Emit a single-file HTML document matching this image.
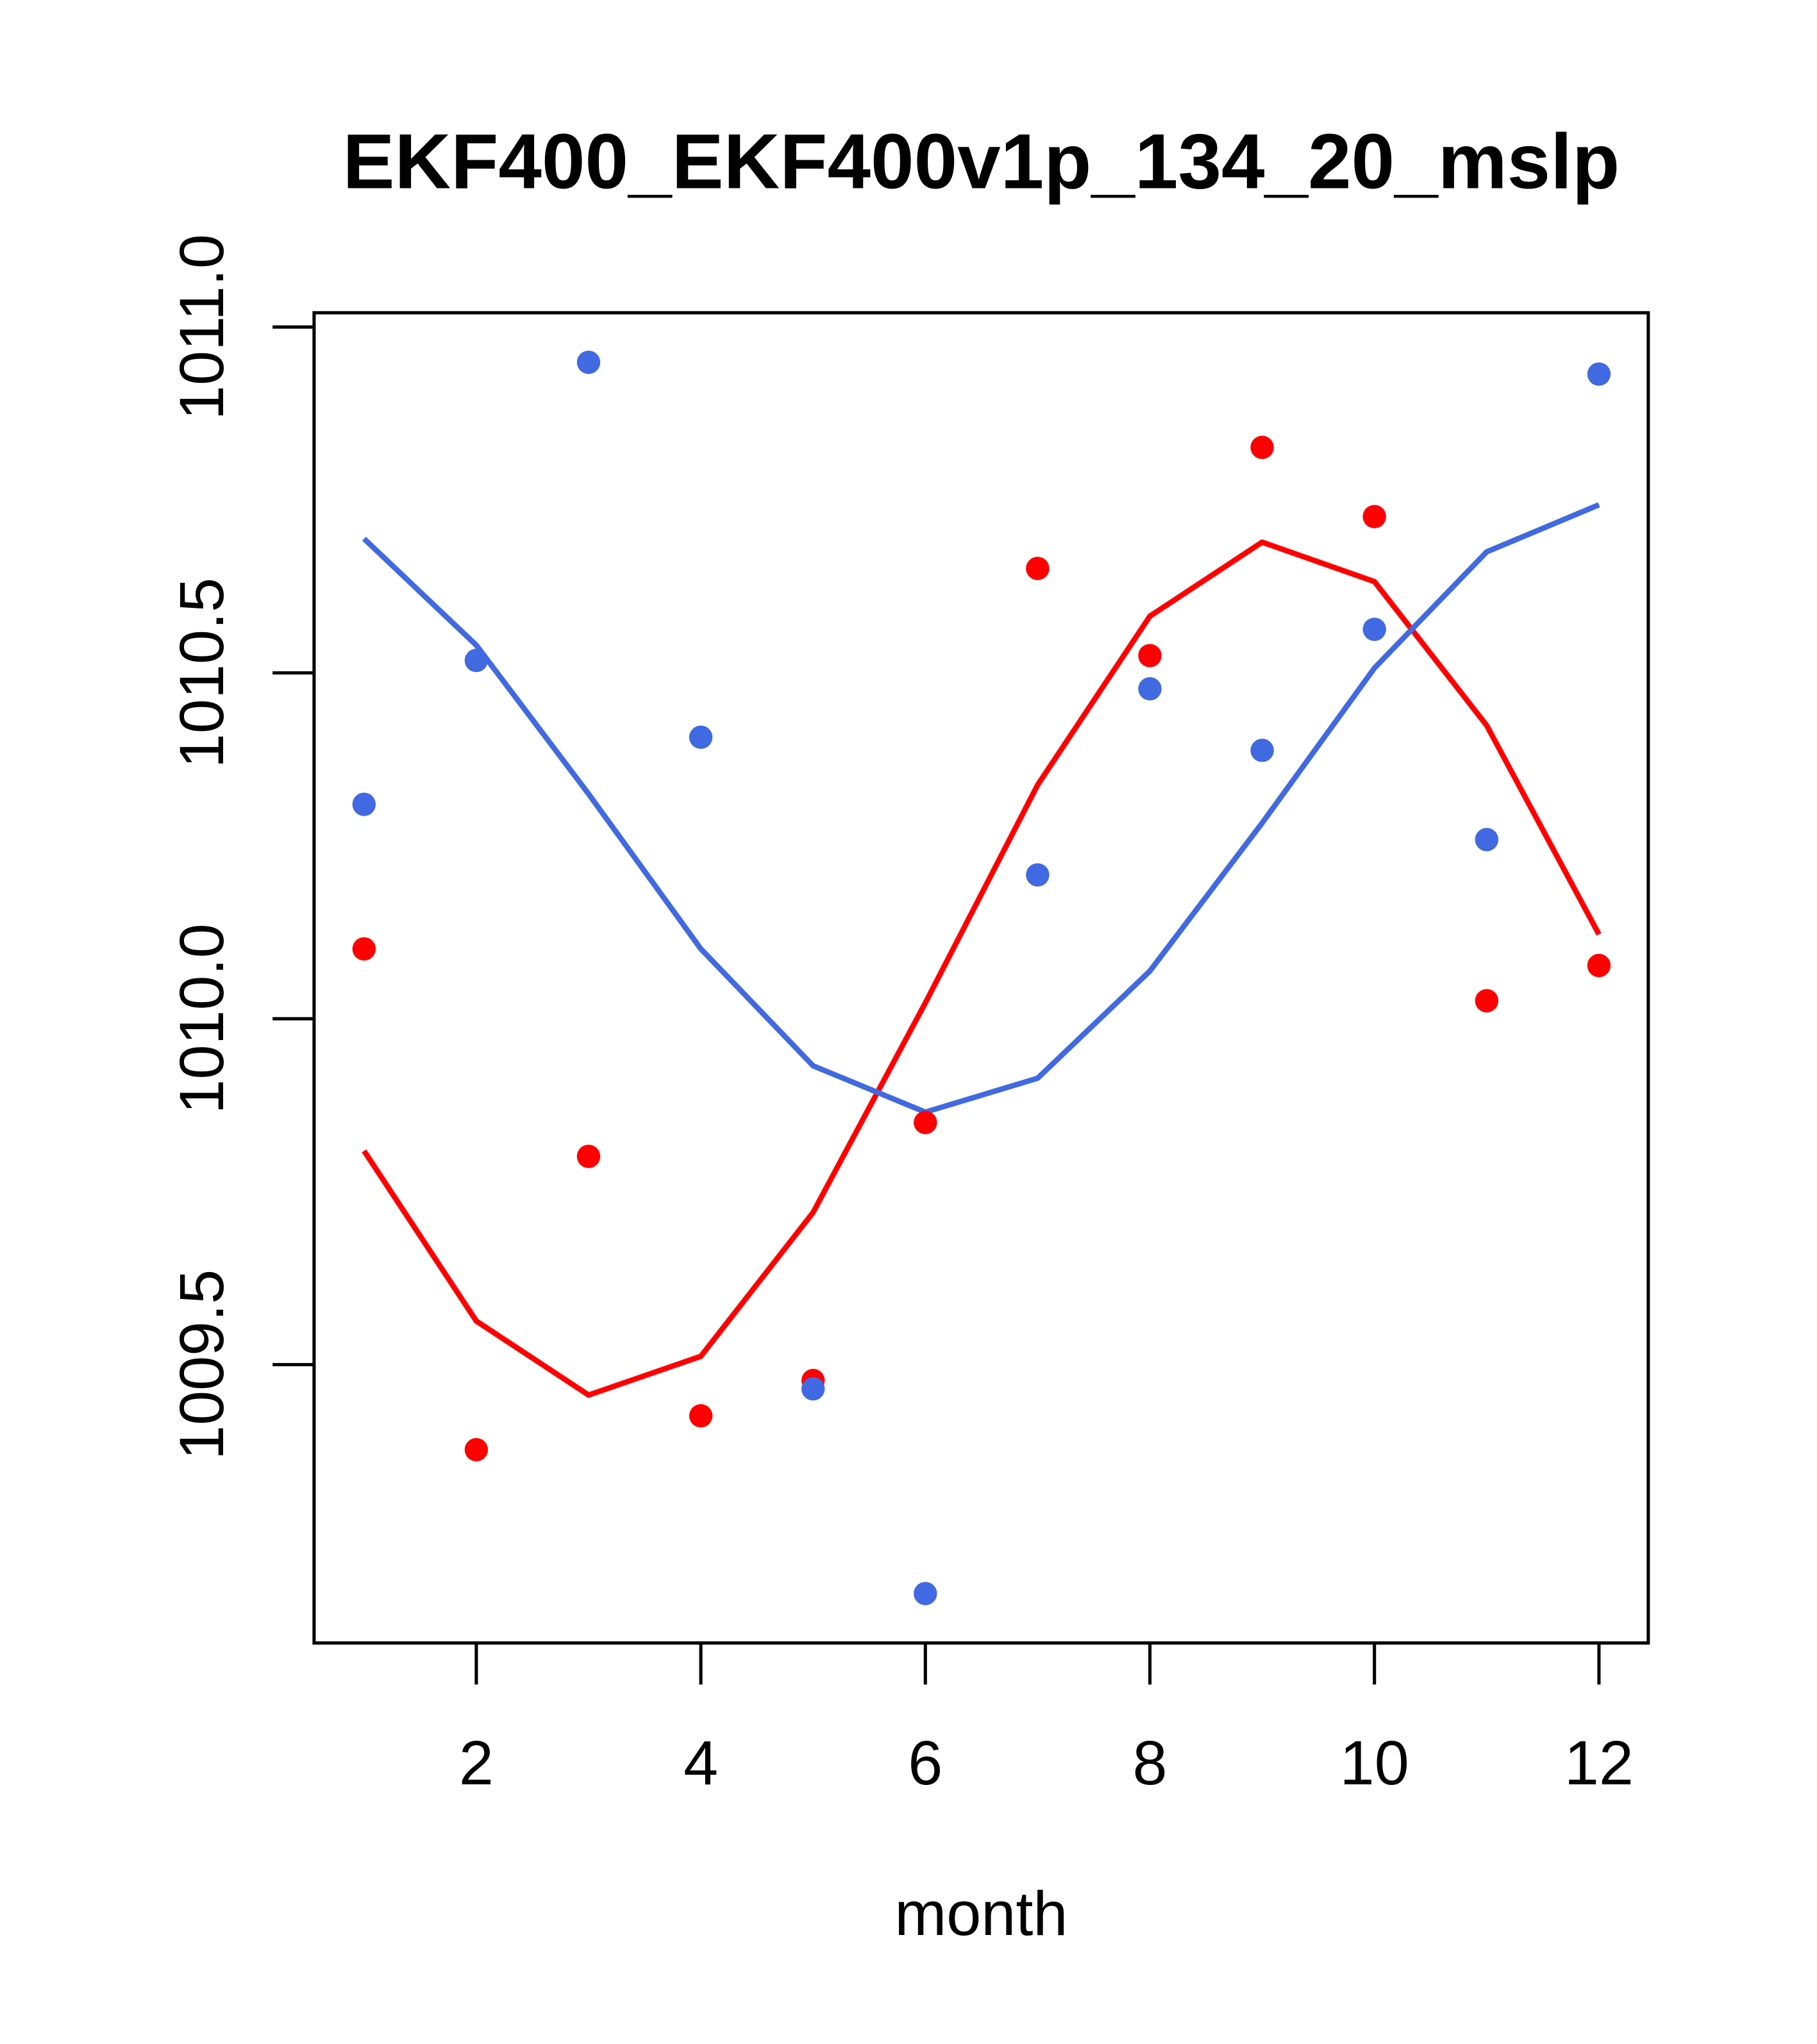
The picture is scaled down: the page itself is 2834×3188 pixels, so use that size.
<!DOCTYPE html>
<html><head><meta charset="utf-8"><style>
html,body{margin:0;padding:0;background:#fff;}
svg{display:block;}
text{font-family:"Liberation Sans",Arial,sans-serif;fill:#000;}
</style></head><body>
<svg id="chart" width="2834" height="3188" viewBox="0 0 1400 1575" preserveAspectRatio="none" xmlns="http://www.w3.org/2000/svg">
<text x="756" y="145" font-size="60" font-weight="bold" text-anchor="middle">EKF400_EKF400v1p_134_20_mslp</text>
<rect x="242" y="241" width="1028" height="1025" fill="none" stroke="#000" stroke-width="2.5"/>
<g id="xaxis"></g>
<g id="yaxis"></g>
<text x="756" y="1491" font-size="48" text-anchor="middle">month</text>
<g id="marks"></g>
</svg>
<script>
const months = [1,2,3,4,5,6,7,8,9,10,11,12];
const xTicks = [2,4,6,8,10,12];
const yTicks = [1009.5,1010.0,1010.5,1011.0];
const yTickLabels = ["1009.5","1010.0","1010.5","1011.0"];
const bluePoints = [1010.310,1010.518,1010.949,1010.407,1009.465,1009.169,1010.208,1010.477,1010.388,1010.563,1010.259,1010.932];
const redPoints = [1010.101,1009.377,1009.801,1009.426,1009.477,1009.850,1010.651,1010.525,1010.826,1010.726,1010.026,1010.077];
const blueLine = [1010.694,1010.540,1010.325,1010.101,1009.932,1009.865,1009.914,1010.069,1010.283,1010.507,1010.675,1010.743];
const redLine = [1009.809,1009.563,1009.456,1009.512,1009.720,1010.023,1010.338,1010.582,1010.689,1010.632,1010.424,1010.122];

const NS = "http://www.w3.org/2000/svg";
function xs(m){ return 280.5 + (m-1)*86.5; }
function ys(v){ return 252 + (1011 - v)*533; }
function mk(tag, attrs, parent){
  const e = document.createElementNS(NS, tag);
  for (const k in attrs) e.setAttribute(k, attrs[k]);
  parent.appendChild(e);
  return e;
}
const xa = document.getElementById('xaxis');
const ya = document.getElementById('yaxis');
const mg = document.getElementById('marks');

xTicks.forEach(t => {
  const l = mk('line', {x1:xs(t), x2:xs(t), y1:1266, y2:1298, stroke:'#000', 'stroke-width':2.5}, xa);
  
  
  const tx = mk('text', {x:xs(t), y:1375, 'font-size':48, 'text-anchor':'middle'}, xa);
  tx.textContent = t;
  
  
});
yTicks.forEach((t, i) => {
  const l = mk('line', {x1:210, x2:242, y1:ys(t), y2:ys(t), stroke:'#000', 'stroke-width':2.5}, ya);
  
  
  const y = ys(t);
  const tx = mk('text', {x:172, y:y, 'font-size':48, 'text-anchor':'middle', transform:'rotate(-90 172 ' + y + ')'}, ya);
  tx.textContent = yTickLabels[i];
  
  
});

function drawLine(vals, color, name){
  const pts = vals.map((v, i) => xs(months[i]) + ',' + ys(v)).join(' ');
  const p = mk('polyline', {points:pts, fill:'none', stroke:color, 'stroke-width':4.2, 'stroke-linejoin':'round'}, mg);
  
  
}
function drawPoints(vals, color, name){
  vals.forEach((v, i) => {
    const c = mk('circle', {cx:xs(months[i]), cy:ys(v), r:9, fill:color}, mg);
    
    
  });
}
drawLine(redLine, '#ff0000', 'red-fit-line');
drawLine(blueLine, '#4169e1', 'blue-fit-line');
drawPoints(redPoints, '#ff0000', 'red-point');
drawPoints(bluePoints, '#4169e1', 'blue-point');
</script>
</body></html>
